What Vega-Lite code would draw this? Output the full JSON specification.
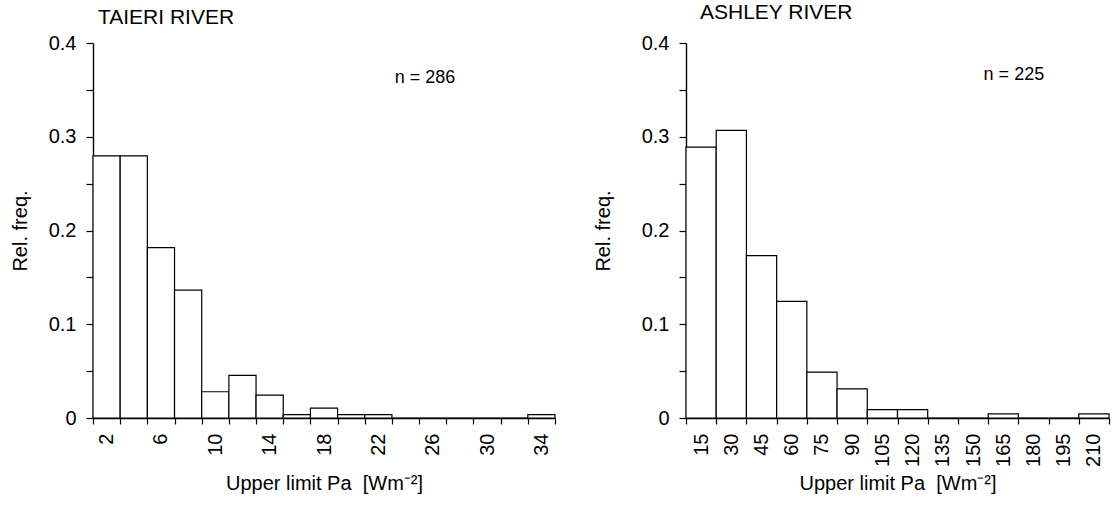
{
  "$schema": "https://vega.github.io/schema/vega-lite/v6.json",
  "background": "white",
  "padding": {"left": 10, "top": 2, "right": 5, "bottom": 5},
  "spacing": 131,
  "bounds": "flush",
  "config": {
    "font": "Liberation Sans",
    "view": {"stroke": null},
    "axis": {
      "domainColor": "black",
      "domainWidth": 1.4,
      "tickColor": "black",
      "tickWidth": 1.2,
      "labelColor": "black",
      "titleColor": "black",
      "labelFont": "Liberation Sans",
      "titleFont": "Liberation Sans",
      "labelFontSize": 20,
      "titleFontSize": 20,
      "titleFontWeight": "normal",
      "grid": false,
      "labelOverlap": false,
      "labelBound": false,
      "labelFlush": false
    },
    "title": {"font": "Liberation Sans", "fontSize": 21, "fontWeight": "normal", "color": "black", "anchor": "start", "frame": "group"}
  },
  "hconcat": [
    {
      "width": 462,
      "height": 375,
      "title": {"text": "TAIERI RIVER", "dx": 5, "offset": 5},
      "layer": [
        {
          "data": {"values": [
            {"upper": 2, "freq": 0.2797},
            {"upper": 4, "freq": 0.2797},
            {"upper": 6, "freq": 0.1818},
            {"upper": 8, "freq": 0.1364},
            {"upper": 10, "freq": 0.0280},
            {"upper": 12, "freq": 0.0455},
            {"upper": 14, "freq": 0.0245},
            {"upper": 16, "freq": 0.0035},
            {"upper": 18, "freq": 0.0105},
            {"upper": 20, "freq": 0.0035},
            {"upper": 22, "freq": 0.0035},
            {"upper": 24, "freq": 0},
            {"upper": 26, "freq": 0},
            {"upper": 28, "freq": 0},
            {"upper": 30, "freq": 0},
            {"upper": 32, "freq": 0},
            {"upper": 34, "freq": 0.0035}
          ]},
          "mark": {"type": "bar", "fill": "white", "stroke": "black", "strokeWidth": 1.2},
          "encoding": {
            "x": {
              "field": "upper", "type": "ordinal", "sort": "ascending",
              "scale": {"paddingInner": 0, "paddingOuter": 0},
              "axis": {
                "title": "Upper limit Pa\u00a0 [Wm\u207b\u00b2]",
                "tickBand": "extent",
                "labelAngle": -90,
                "labelAlign": "right",
                "labelBaseline": "middle",
                "tickSize": 6,
                "labelPadding": 9,
                "labelExpr": "(datum.value - 2) % 4 == 0 ? datum.label : ''",
                "titleY": 65,
                "titleBaseline": "middle"
              }
            },
            "y": {
              "field": "freq", "type": "quantitative",
              "scale": {"domain": [0, 0.4], "nice": false},
              "axis": {
                "title": "Rel. freq.",
                "values": [0, 0.025, 0.05, 0.075, 0.1, 0.125, 0.15, 0.175, 0.2, 0.225, 0.25, 0.275, 0.3, 0.325, 0.35, 0.375, 0.4],
                "labelExpr": "datum.value == 0 ? '0' : (abs(datum.value*10 - round(datum.value*10)) < 0.001 ? format(datum.value, '.1f') : '')",
                "tickSize": 7,
                "labelPadding": 10,
                "titleX": -73,
                "titleBaseline": "middle"
              }
            }
          }
        },
        {
          "data": {"values": [{"upper": 24, "freq": 0.363, "label": "n = 286"}]},
          "mark": {"type": "text", "align": "left", "baseline": "middle", "fontSize": 18, "font": "Liberation Sans", "color": "black"},
          "encoding": {
            "x": {"field": "upper", "type": "ordinal", "bandPosition": 0.1},
            "y": {"field": "freq", "type": "quantitative"},
            "text": {"field": "label"}
          }
        }
      ]
    },
    {
      "width": 423,
      "height": 375,
      "title": {"text": "ASHLEY RIVER", "dx": 14, "offset": 10},
      "layer": [
        {
          "data": {"values": [
            {"upper": 15, "freq": 0.2889},
            {"upper": 30, "freq": 0.3067},
            {"upper": 45, "freq": 0.1733},
            {"upper": 60, "freq": 0.1244},
            {"upper": 75, "freq": 0.0489},
            {"upper": 90, "freq": 0.0311},
            {"upper": 105, "freq": 0.0089},
            {"upper": 120, "freq": 0.0089},
            {"upper": 135, "freq": 0},
            {"upper": 150, "freq": 0},
            {"upper": 165, "freq": 0.0044},
            {"upper": 180, "freq": 0},
            {"upper": 195, "freq": 0},
            {"upper": 210, "freq": 0.0044}
          ]},
          "mark": {"type": "bar", "fill": "white", "stroke": "black", "strokeWidth": 1.2},
          "encoding": {
            "x": {
              "field": "upper", "type": "ordinal", "sort": "ascending",
              "scale": {"paddingInner": 0, "paddingOuter": 0},
              "axis": {
                "title": "Upper limit Pa\u00a0 [Wm\u207b\u00b2]",
                "tickBand": "extent",
                "labelAngle": -90,
                "labelAlign": "right",
                "labelBaseline": "middle",
                "tickSize": 6,
                "labelPadding": 9,
                "titleY": 65,
                "titleBaseline": "middle"
              }
            },
            "y": {
              "field": "freq", "type": "quantitative",
              "scale": {"domain": [0, 0.4], "nice": false},
              "axis": {
                "title": "Rel. freq.",
                "values": [0, 0.025, 0.05, 0.075, 0.1, 0.125, 0.15, 0.175, 0.2, 0.225, 0.25, 0.275, 0.3, 0.325, 0.35, 0.375, 0.4],
                "labelExpr": "datum.value == 0 ? '0' : (abs(datum.value*10 - round(datum.value*10)) < 0.001 ? format(datum.value, '.1f') : '')",
                "tickSize": 7,
                "labelPadding": 10,
                "titleX": -83,
                "titleBaseline": "middle"
              }
            }
          }
        },
        {
          "data": {"values": [{"upper": 150, "freq": 0.366, "label": "n = 225"}]},
          "mark": {"type": "text", "align": "left", "baseline": "middle", "fontSize": 18, "font": "Liberation Sans", "color": "black"},
          "encoding": {
            "x": {"field": "upper", "type": "ordinal", "bandPosition": 0.85},
            "y": {"field": "freq", "type": "quantitative"},
            "text": {"field": "label"}
          }
        }
      ]
    }
  ]
}
